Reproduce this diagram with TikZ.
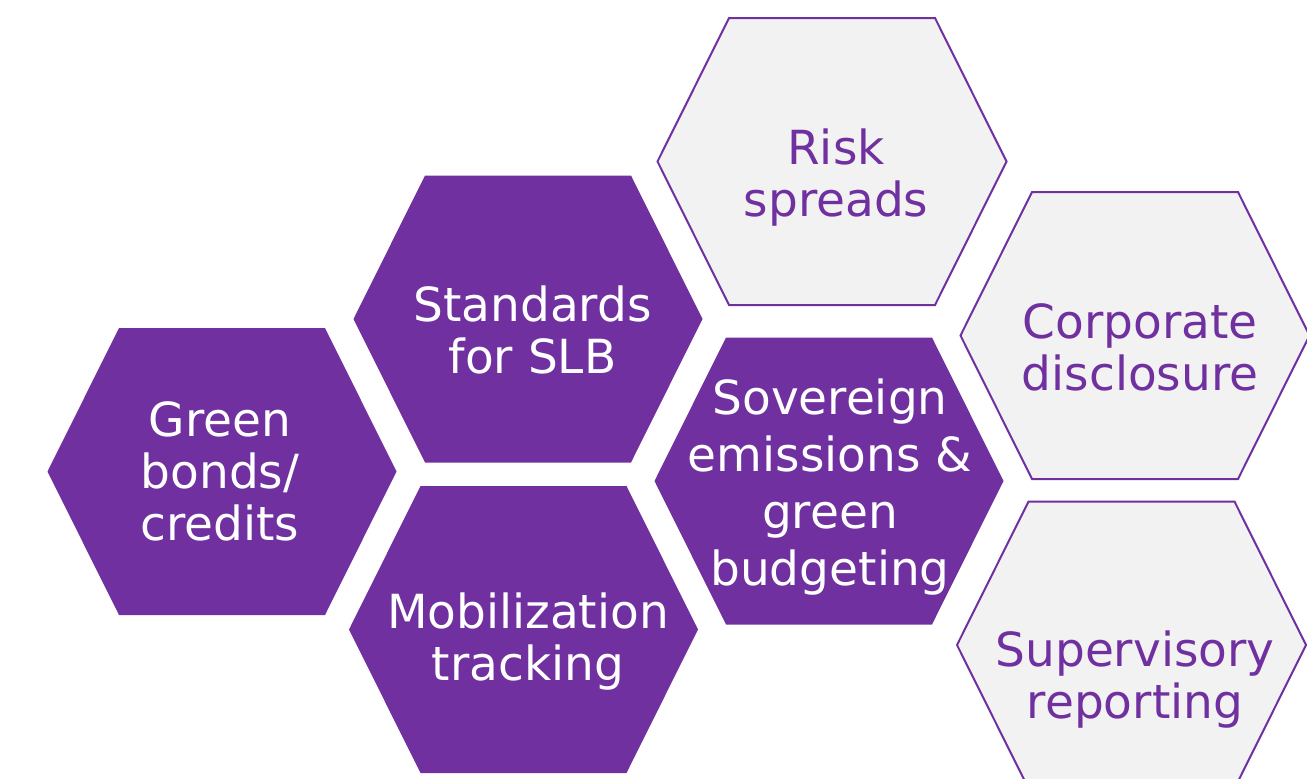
\documentclass[tikz,border=0pt]{standalone}
\usepackage{fontspec}
\setmainfont{DejaVu Sans}
\definecolor{hexpurple}{HTML}{7030A0}
\definecolor{hexlight}{HTML}{F2F2F2}
\tikzset{
  hexagon/.pic={\path[pic actions] (-174.5,0) -- (-103,-143.5) -- (103,-143.5) -- (174.5,0) -- (103,143.5) -- (-103,143.5) -- cycle;},
  darkhex/.style={fill=hexpurple, draw=none},
  lighthex/.style={fill=hexlight, draw=hexpurple, line width=2pt},
  darklbl/.style={text=white, align=center, inner sep=0pt, font=\fontsize{47}{52}\selectfont},
  lightlbl/.style={text=hexpurple, align=center, inner sep=0pt, font=\fontsize{47}{52}\selectfont},
}
\begin{document}
\begin{tikzpicture}[x=1pt,y=-1pt]
\useasboundingbox (0,0) rectangle (1307,779);
\clip (0,0) rectangle (1307,779);
\coordinate (green) at (222,471.5);
\coordinate (stand) at (528,319);
\coordinate (mobil) at (523.5,629.5);
\coordinate (sover) at (829,481);
\coordinate (risk) at (832,161.5);
\coordinate (corp) at (1135,335.5);
\coordinate (super) at (1131.5,645);
\pic[darkhex] at (green) {hexagon};
\pic[darkhex] at (stand) {hexagon};
\pic[darkhex] at (mobil) {hexagon};
\pic[darkhex] at (sover) {hexagon};
\pic[lighthex] at (risk) {hexagon};
\pic[lighthex] at (corp) {hexagon};
\pic[lighthex] at (super) {hexagon};
\node[darklbl] (greent) at (220,471) {Green\\bonds/\\credits};
\node[darklbl] (standt) at (532.5,330) {Standards\\for SLB};
\node[darklbl] (mobilt) at (528,642) {Mobilization\\tracking};
\node[darklbl, font=\fontsize{47}{57}\selectfont] (sovert) at (830,487.5) {Sovereign\\emissions \&\\green\\budgeting};
\node[lightlbl] (riskt) at (836,178) {Risk\\spreads};
\node[lightlbl] (corpt) at (1140,347) {Corporate\\disclosure};
\node[lightlbl] (supert) at (1135,680) {Supervisory\\reporting};
\end{tikzpicture}
\end{document}
